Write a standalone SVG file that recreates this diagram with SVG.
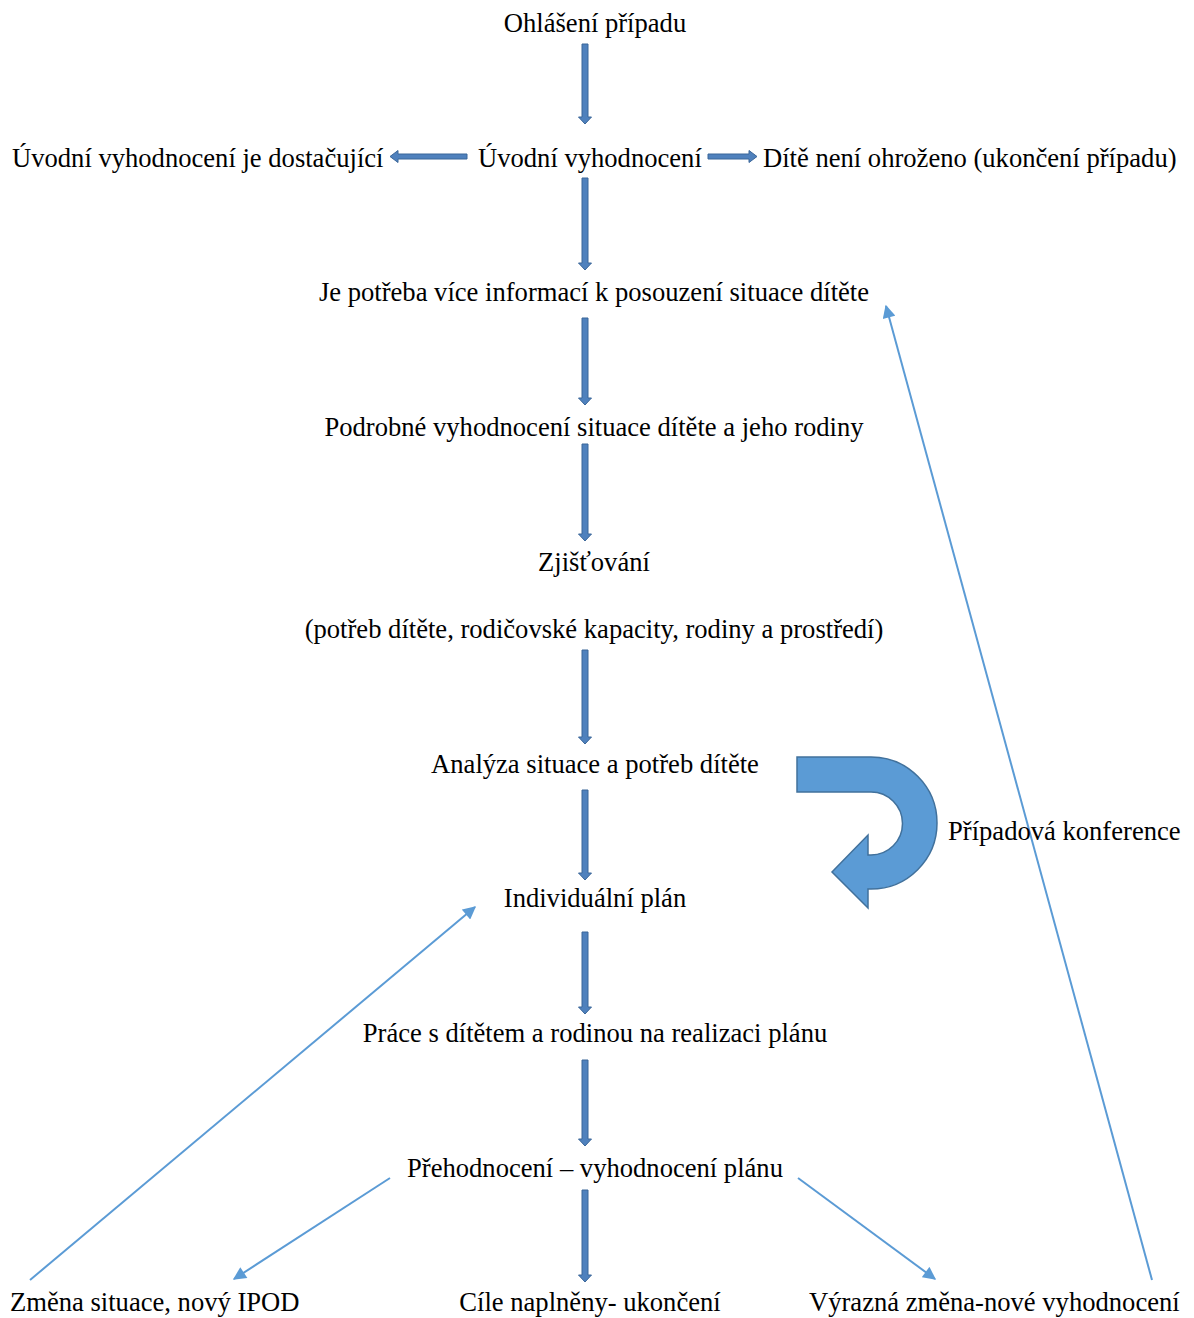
<svg xmlns="http://www.w3.org/2000/svg" width="1194" height="1318" viewBox="0 0 1194 1318">
<style>
text{font-family:"Liberation Serif","Times New Roman",serif;font-size:26.6px;fill:#000}
.c{text-anchor:middle}
.blk{fill:#4F81BD;stroke:#3A6699;stroke-width:1}
.thin{stroke:#5B9BD5;stroke-width:2;fill:none;marker-end:url(#ah)}
</style>
<defs>
<marker id="ah" viewBox="0 0 10 10" refX="9" refY="5" markerWidth="14" markerHeight="13" markerUnits="userSpaceOnUse" orient="auto">
<path d="M0,0 L10,5 L0,10 Z" fill="#5B9BD5"/>
</marker>
</defs>
<rect width="1194" height="1318" fill="#fff"/>
<g id="connectors">
<path class="blk" d="M582,44 H588 V117 H591.5 L585,124 L578.5,117 H582 Z"/>
<path class="blk" d="M582,178 H588 V263 H591.5 L585,270 L578.5,263 H582 Z"/>
<path class="blk" d="M582,318 H588 V398 H591.5 L585,405 L578.5,398 H582 Z"/>
<path class="blk" d="M582,444 H588 V534 H591.5 L585,541 L578.5,534 H582 Z"/>
<path class="blk" d="M582,650 H588 V737 H591.5 L585,744 L578.5,737 H582 Z"/>
<path class="blk" d="M582,790 H588 V873 H591.5 L585,880 L578.5,873 H582 Z"/>
<path class="blk" d="M582,932 H588 V1007 H591.5 L585,1014 L578.5,1007 H582 Z"/>
<path class="blk" d="M582,1060 H588 V1139 H591.5 L585,1146 L578.5,1139 H582 Z"/>
<path class="blk" d="M582,1190 H588 V1275 H591.5 L585,1282 L578.5,1275 H582 Z"/>
<path class="blk" d="M467,154 V159 H398 V162.5 L390,156.5 L398,150.5 V154 Z"/>
<path class="blk" d="M708,154 V159 H749 V162.5 L757,156.5 L749,150.5 V154 Z"/>
<line class="thin" x1="390" y1="1178" x2="234" y2="1279"/>
<line class="thin" x1="798" y1="1178" x2="935" y2="1279"/>
<line class="thin" x1="30" y1="1280" x2="475" y2="907"/>
<line class="thin" x1="1152" y1="1280" x2="886" y2="306"/>
<path d="M797,757 H871 A66,66 0 0 1 871,889 H868 V908 L832,872 L868,835 V855 H871 A31.5,31.5 0 0 0 871,792 H797 Z" fill="#5B9BD5" stroke="#41719C" stroke-width="1.5"/>
</g>
<g id="n1"><text class="c" x="595" y="32">Ohlášení případu</text></g>
<g id="n2"><text x="12" y="167">Úvodní vyhodnocení je dostačující</text></g>
<g id="n3"><text x="478" y="167">Úvodní vyhodnocení</text></g>
<g id="n4"><text x="763" y="167">Dítě není ohroženo (ukončení případu)</text></g>
<g id="n5"><text class="c" x="594" y="301">Je potřeba více informací k posouzení situace dítěte</text></g>
<g id="n6"><text class="c" x="594" y="436">Podrobné vyhodnocení situace dítěte a jeho rodiny</text></g>
<g id="n7"><text class="c" x="594" y="571">Zjišťování</text><text class="c" x="594" y="638">(potřeb dítěte, rodičovské kapacity, rodiny a prostředí)</text></g>
<g id="n8"><text class="c" x="595" y="773">Analýza situace a potřeb dítěte</text></g>
<g id="n9"><text class="c" x="595" y="907">Individuální plán</text></g>
<g id="n10"><text x="948" y="840">Případová konference</text></g>
<g id="n11"><text class="c" x="595" y="1042">Práce s dítětem a rodinou na realizaci plánu</text></g>
<g id="n12"><text class="c" x="595" y="1177">Přehodnocení – vyhodnocení plánu</text></g>
<g id="n13"><text x="10" y="1311">Změna situace, nový IPOD</text></g>
<g id="n14"><text class="c" x="590" y="1311">Cíle naplněny- ukončení</text></g>
<g id="n15"><text x="809" y="1311">Výrazná změna-nové vyhodnocení</text></g>
</svg>
